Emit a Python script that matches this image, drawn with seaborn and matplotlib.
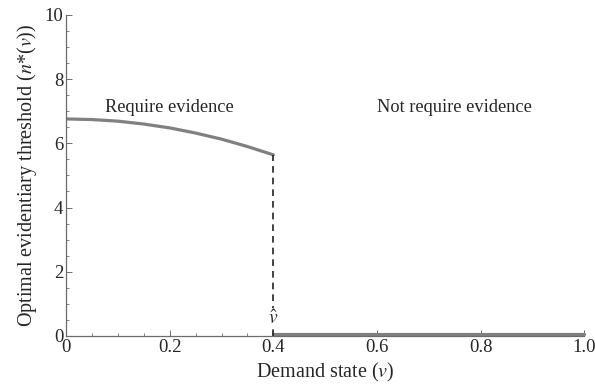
import matplotlib
matplotlib.use("Agg")
import matplotlib.pyplot as plt
import seaborn as sns
import pandas as pd
from matplotlib.ticker import MultipleLocator

# values
demand = [0.0, 0.05, 0.10, 0.15, 0.20, 0.25, 0.30, 0.35, 0.40]
threshold = [6.76, 6.74, 6.69, 6.60, 6.48, 6.32, 6.13, 5.90, 5.64]
v_hat = 0.4
flat_x = [0.4, 1.0]
flat_y = [0.05, 0.05]
x_ticks = [0, 0.2, 0.4, 0.6, 0.8, 1.0]
x_ticklabels = ["0", "0.2", "0.4", "0.6", "0.8", "1.0"]

sns.set_theme(style="white")
plt.rcParams["font.family"] = ["Liberation Serif", "DejaVu Serif"]
plt.rcParams["mathtext.fontset"] = "stix"

fig = plt.figure(figsize=(5.95, 3.92), dpi=100)
ax = fig.add_axes([0.111, 0.143, 0.871, 0.819])

curve = pd.DataFrame({"v": demand, "n": threshold})
flat = pd.DataFrame({"v": flat_x, "n": flat_y})
sns.lineplot(data=curve, x="v", y="n", ax=ax, color="#808080", linewidth=2.3)
sns.lineplot(data=flat, x="v", y="n", ax=ax, color="#808080", linewidth=2.3, clip_on=False)
ax.vlines(v_hat, 0, threshold[-1], colors="#222222", linestyles=(0, (4, 3)), linewidth=1.2)

ax.text(0.2, 7.13, "Require evidence", ha="center", va="center", fontsize=13.2)
ax.text(0.75, 7.13, "Not require evidence", ha="center", va="center", fontsize=13.2)
ax.text(v_hat, 0.55, r"$\hat{v}$", ha="center", va="center", fontsize=14,
        bbox=dict(facecolor="white", edgecolor="none", pad=0.5))

ax.set_xlim(0, 1.0)
ax.set_ylim(0, 10)
ax.set_xticks(x_ticks)
ax.set_xticklabels(x_ticklabels)
ax.xaxis.set_minor_locator(MultipleLocator(0.05))
ax.yaxis.set_major_locator(MultipleLocator(2))
ax.yaxis.set_minor_locator(MultipleLocator(0.5))

for s in ["top", "right"]:
    ax.spines[s].set_visible(False)
for s in ["left", "bottom"]:
    ax.spines[s].set_color("#6b6b6b")
    ax.spines[s].set_linewidth(0.9)
ax.tick_params(which="major", direction="in", length=4, width=0.7, color="#6b6b6b", labelsize=13.5, pad=2)
ax.tick_params(which="minor", direction="in", length=2, width=0.6, color="#6b6b6b")
ax.tick_params(axis="x", which="both", bottom=True)
ax.tick_params(axis="y", which="both", left=True)

ax.set_xlabel(r"Demand state ($v$)", fontsize=14.5, labelpad=4)
ax.set_ylabel(r"Optimal evidentiary threshold ($n$*($v$))", fontsize=14.5, labelpad=4)

fig.savefig("out.png", dpi=100)
